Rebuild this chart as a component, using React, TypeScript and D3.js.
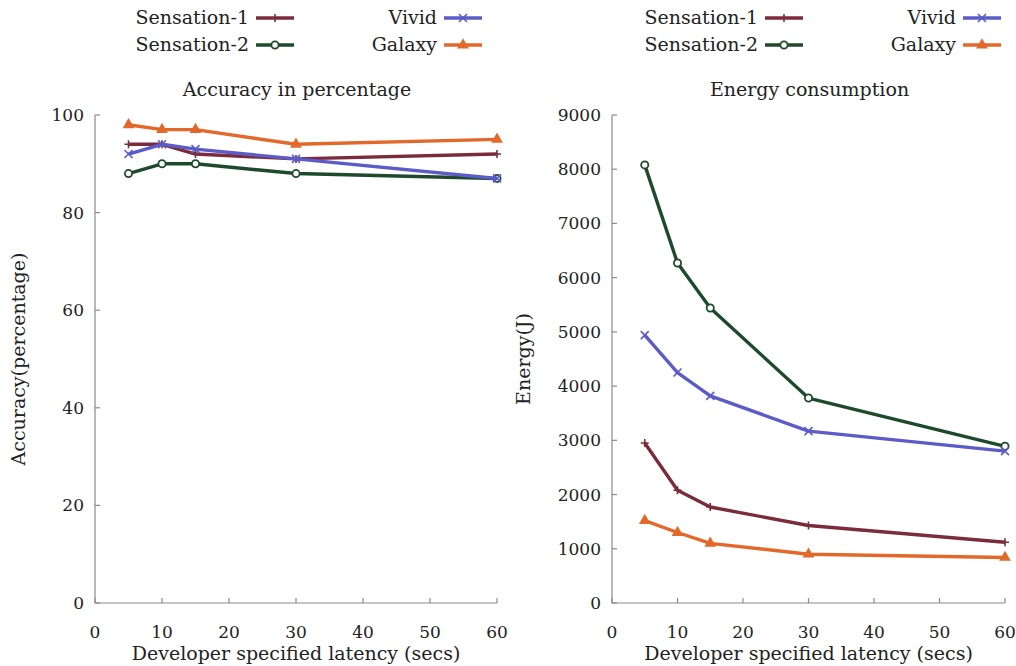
import React, { useEffect, useRef } from "react";
import * as d3 from "d3";

const latency = [5, 10, 15, 30, 60];
const seriesNames = ["Sensation-1", "Sensation-2", "Vivid", "Galaxy"];
const seriesColors = ["#7b2c3a", "#1e4a2c", "#5c5cc8", "#e2692a"];
const seriesMarkers = ["plus", "circle", "cross", "triangle"];

const accSensation1 = [94, 94, 92, 91, 92];
const accSensation2 = [88, 90, 90, 88, 87];
const accVivid = [92, 94, 93, 91, 87];
const accGalaxy = [98, 97, 97, 94, 95];

const enSensation1 = [2950, 2080, 1770, 1430, 1120];
const enSensation2 = [8080, 6270, 5440, 3780, 2890];
const enVivid = [4940, 4250, 3820, 3170, 2800];
const enGalaxy = [1520, 1300, 1100, 900, 840];

const xTicks = [0, 10, 20, 30, 40, 50, 60];
const accTicks = [0, 20, 40, 60, 80, 100];
const energyTicks = [0, 1000, 2000, 3000, 4000, 5000, 6000, 7000, 8000, 9000];

const FONT = "'DejaVu Serif', serif";
const FS = 19;
const TICK_FS = 17;

function drawMarker(g, type, x, y, color) {
  if (type === "plus") {
    g.append("path").attr("d", `M${x - 4},${y}H${x + 4}M${x},${y - 4}V${y + 4}`)
      .attr("stroke", color).attr("stroke-width", 1.6);
  } else if (type === "circle") {
    g.append("circle").attr("cx", x).attr("cy", y).attr("r", 3.6)
      .attr("fill", "white").attr("stroke", color).attr("stroke-width", 1.8);
  } else if (type === "cross") {
    g.append("path").attr("d", `M${x - 4},${y - 4}L${x + 4},${y + 4}M${x - 4},${y + 4}L${x + 4},${y - 4}`)
      .attr("stroke", color).attr("stroke-width", 1.6);
  } else {
    g.append("path").attr("d", d3.symbol(d3.symbolTriangle, 60)())
      .attr("transform", `translate(${x},${y})`).attr("fill", color);
  }
}

function label(g, x, y, anchor, text, size = FS) {
  return g.append("text").attr("x", x).attr("y", y).attr("text-anchor", anchor)
    .attr("font-family", FONT).attr("font-size", size).attr("fill", "#222").text(text);
}

function drawPanel(svg, opts) {
  const { left, right, top, bottom, yMax, yTicks, data, title, yLabel, legendX } = opts;
  const x = d3.scaleLinear().domain([0, 60]).range([left, right]);
  const y = d3.scaleLinear().domain([0, yMax]).range([bottom, top]);
  const g = svg.append("g");

  // axes: left + bottom only, ticks inward
  const axisColor = "#8a8a8a";
  g.append("path").attr("d", `M${left},${top}V${bottom}H${right}`)
    .attr("fill", "none").attr("stroke", axisColor).attr("stroke-width", 1.2);
  yTicks.forEach((t) => {
    g.append("line").attr("x1", left).attr("x2", left + 5).attr("y1", y(t)).attr("y2", y(t))
      .attr("stroke", axisColor).attr("stroke-width", 1.2);
    label(g, left - 11, y(t) + 6, "end", t, TICK_FS);
  });
  xTicks.forEach((t) => {
    g.append("line").attr("x1", x(t)).attr("x2", x(t)).attr("y1", bottom).attr("y2", bottom - 5)
      .attr("stroke", axisColor).attr("stroke-width", 1.2);
    label(g, x(t), bottom + 35, "middle", t, TICK_FS);
  });

  label(g, (left + right) / 2, bottom + 57, "middle", "Developer specified latency (secs)");
  label(g, (left + right) / 2 + 1, 96, "middle", title);
  g.append("text").attr("transform", `translate(${opts.yLabelX},${(top + bottom) / 2}) rotate(-90)`)
    .attr("text-anchor", "middle").attr("font-family", FONT).attr("font-size", FS).attr("fill", "#222")
    .text(yLabel);

  const line = d3.line().x((d) => x(d[0])).y((d) => y(d[1]));
  data.forEach((vals, i) => {
    const pts = latency.map((l, j) => [l, vals[j]]);
    g.append("path").datum(pts).attr("d", line).attr("fill", "none")
      .attr("stroke", seriesColors[i]).attr("stroke-width", 3.4).attr("stroke-linejoin", "round");
    pts.forEach((p) => drawMarker(g, seriesMarkers[i], x(p[0]), y(p[1]), seriesColors[i]));
  });

  // legend
  const lg = svg.append("g");
  const rows = [18, 45];
  const entries = [
    { i: 0, col: 0, row: 0 }, { i: 2, col: 1, row: 0 },
    { i: 1, col: 0, row: 1 }, { i: 3, col: 1, row: 1 },
  ];
  entries.forEach((e) => {
    const lineStart = legendX[e.col];
    const yy = rows[e.row];
    label(lg, lineStart - 7, yy + 6, "end", seriesNames[e.i]);
    lg.append("line").attr("x1", lineStart).attr("x2", lineStart + 38).attr("y1", yy).attr("y2", yy)
      .attr("stroke", seriesColors[e.i]).attr("stroke-width", 3.4);
    drawMarker(lg, seriesMarkers[e.i], lineStart + 19, yy, seriesColors[e.i]);
  });
}

export default function App() {
  const ref = useRef(null);
  useEffect(() => {
    const svg = d3.select(ref.current);
    svg.selectAll("*").remove();
    drawPanel(svg, {
      left: 95, right: 497, top: 115, bottom: 603, yMax: 100, yTicks: accTicks,
      data: [accSensation1, accSensation2, accVivid, accGalaxy],
      title: "Accuracy in percentage", yLabel: "Accuracy(percentage)", yLabelX: 25,
      legendX: [256, 444],
    });
    drawPanel(svg, {
      left: 612, right: 1005, top: 115, bottom: 603, yMax: 9000, yTicks: energyTicks,
      data: [enSensation1, enSensation2, enVivid, enGalaxy],
      title: "Energy consumption", yLabel: "Energy(J)", yLabelX: 530,
      legendX: [765, 963],
    });
  }, []);
  return (
    <svg ref={ref} width={1016} height={666}
      style={{ position: "absolute", left: 0, top: 0, background: "white" }} />
  );
}
